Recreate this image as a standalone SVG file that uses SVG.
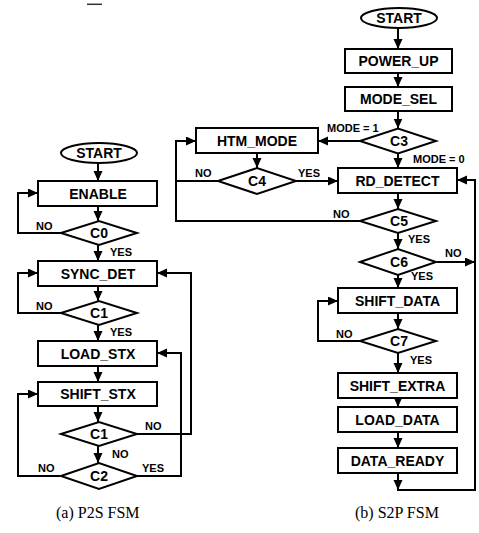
<svg xmlns="http://www.w3.org/2000/svg" width="479" height="533" viewBox="0 0 479 533">
  <style>
    .box { fill: #fff; stroke: #000; stroke-width: 2; }
    .lbl { font-family: "Liberation Sans", Arial, sans-serif; font-weight: bold; font-size: 14px; text-anchor: middle; fill: #000; }
    .sm { font-family: "Liberation Sans", Arial, sans-serif; font-weight: bold; font-size: 11px; fill: #000; }
    .cap { font-family: "Liberation Serif", "Times New Roman", serif; font-size: 16px; fill: #000; }
    .wire { fill: none; stroke: #000; stroke-width: 2; }
  </style>
  <defs>
    <marker id="arrow" markerUnits="userSpaceOnUse" markerWidth="11" markerHeight="10" refX="10" refY="4.5" orient="auto">
      <path d="M0,0 L10,4.5 L0,9 z" fill="#000"/>
    </marker>
  </defs>
  <rect width="479" height="533" fill="#fff"/>
  <line x1="87" y1="4.3" x2="102" y2="4.3" stroke="#333" stroke-width="1.5"/>

  <!-- connectors -->
  <g id="connectors" class="wire">
    <!-- P2S -->
    <path d="M98,163 V181" marker-end="url(#arrow)"/>
    <path d="M98,206 V221" marker-end="url(#arrow)"/>
    <path d="M61,233 H18 V193 H38" marker-end="url(#arrow)"/>
    <path d="M98,245 V261" marker-end="url(#arrow)"/>
    <path d="M98,286 V301" marker-end="url(#arrow)"/>
    <path d="M61,313 H18 V273 H38" marker-end="url(#arrow)"/>
    <path d="M98,325 V341" marker-end="url(#arrow)"/>
    <path d="M98,366 V382" marker-end="url(#arrow)"/>
    <path d="M98,406 V422" marker-end="url(#arrow)"/>
    <path d="M137,434 H191 V273 H157" marker-end="url(#arrow)"/>
    <path d="M98,446 V463" marker-end="url(#arrow)"/>
    <path d="M60,476 H18 V394 H38" marker-end="url(#arrow)"/>
    <path d="M136,476 H181 V353 H157" marker-end="url(#arrow)"/>
    <!-- S2P -->
    <path d="M398,28 V49" marker-end="url(#arrow)"/>
    <path d="M398,73 V87" marker-end="url(#arrow)"/>
    <path d="M398,111 V128.5" marker-end="url(#arrow)"/>
    <path d="M360,141 H318" marker-end="url(#arrow)"/>
    <path d="M398,153.5 V168" marker-end="url(#arrow)"/>
    <path d="M257,153 V168" marker-end="url(#arrow)"/>
    <path d="M218,181 H176"/>
    <path d="M296,181 H338" marker-end="url(#arrow)"/>
    <path d="M398,193 V209" marker-end="url(#arrow)"/>
    <path d="M360,221 H176 V141 H196" marker-end="url(#arrow)"/>
    <path d="M398,233 V249" marker-end="url(#arrow)"/>
    <path d="M437,262 H475" marker-end="url(#arrow)"/>
    <path d="M398,275 V288" marker-end="url(#arrow)"/>
    <path d="M398,313 V329" marker-end="url(#arrow)"/>
    <path d="M360,341 H318 V301 H338" marker-end="url(#arrow)"/>
    <path d="M398,353 V373" marker-end="url(#arrow)"/>
    <path d="M398,398 V407" marker-end="url(#arrow)"/>
    <path d="M398,432 V448" marker-end="url(#arrow)"/>
    <path d="M398,473 V490" marker-end="url(#arrow)"/>
    <path d="M397,490 H475 V180 H457" marker-end="url(#arrow)"/>
  </g>

  <!-- P2S FSM nodes -->
  <g id="p2s-start"><ellipse class="box" cx="99" cy="153" rx="38" ry="10"/><text class="lbl" x="99" y="158">START</text></g>
  <g id="p2s-enable"><rect class="box" x="38" y="181" width="119" height="25"/><text class="lbl" x="98" y="198.5">ENABLE</text></g>
  <g id="p2s-c0"><polygon class="box" points="61,233 99,221 137,233 99,245"/><text class="lbl" x="99" y="238">C0</text></g>
  <g id="p2s-sync"><rect class="box" x="38" y="261" width="119" height="25"/><text class="lbl" x="98" y="278.5">SYNC_DET</text></g>
  <g id="p2s-c1a"><polygon class="box" points="61,313 99,301 137,313 99,325"/><text class="lbl" x="99" y="318">C1</text></g>
  <g id="p2s-load"><rect class="box" x="38" y="341" width="119" height="25"/><text class="lbl" x="98" y="358.5">LOAD_STX</text></g>
  <g id="p2s-shift"><rect class="box" x="38" y="382" width="119" height="24"/><text class="lbl" x="98" y="399">SHIFT_STX</text></g>
  <g id="p2s-c1b"><polygon class="box" points="61,434 99,422 137,434 99,446"/><text class="lbl" x="99" y="439">C1</text></g>
  <g id="p2s-c2"><polygon class="box" points="61,476 99,463 137,476 99,489"/><text class="lbl" x="99" y="481">C2</text></g>

  <!-- P2S branch labels -->
  <g id="p2s-labels">
    <text class="sm" x="36" y="230">NO</text>
    <text class="sm" x="110" y="256">YES</text>
    <text class="sm" x="36" y="310">NO</text>
    <text class="sm" x="110" y="336">YES</text>
    <text class="sm" x="145" y="430">NO</text>
    <text class="sm" x="112" y="458">NO</text>
    <text class="sm" x="38" y="472">NO</text>
    <text class="sm" x="142" y="472">YES</text>
  </g>

  <!-- S2P FSM nodes -->
  <g id="s2p-start"><ellipse class="box" cx="399" cy="18" rx="38" ry="10"/><text class="lbl" x="399" y="23">START</text></g>
  <g id="s2p-powerup"><rect class="box" x="345" y="49" width="107" height="24"/><text class="lbl" x="398.5" y="66">POWER_UP</text></g>
  <g id="s2p-modesel"><rect class="box" x="345" y="87" width="107" height="24"/><text class="lbl" x="398.5" y="104">MODE_SEL</text></g>
  <g id="s2p-c3"><polygon class="box" points="360,141 398,128.5 436,141 398,153.5"/><text class="lbl" x="399" y="146">C3</text></g>
  <g id="s2p-htm"><rect class="box" x="196" y="128" width="122" height="25"/><text class="lbl" x="257" y="145.5">HTM_MODE</text></g>
  <g id="s2p-c4"><polygon class="box" points="218,181 257,168 296,181 257,194"/><text class="lbl" x="257" y="186">C4</text></g>
  <g id="s2p-rd"><rect class="box" x="338" y="168" width="119" height="25"/><text class="lbl" x="397.5" y="185.5">RD_DETECT</text></g>
  <g id="s2p-c5"><polygon class="box" points="360,221 398,209 436,221 398,233"/><text class="lbl" x="399" y="226">C5</text></g>
  <g id="s2p-c6"><polygon class="box" points="360,262 398,249 436,262 398,275"/><text class="lbl" x="399" y="267">C6</text></g>
  <g id="s2p-shiftdata"><rect class="box" x="338" y="288" width="119" height="25"/><text class="lbl" x="397.5" y="305.5">SHIFT_DATA</text></g>
  <g id="s2p-c7"><polygon class="box" points="360,341 398,329 436,341 398,353"/><text class="lbl" x="399" y="346">C7</text></g>
  <g id="s2p-shiftextra"><rect class="box" x="338" y="373" width="119" height="25"/><text class="lbl" x="397.5" y="390.5">SHIFT_EXTRA</text></g>
  <g id="s2p-loaddata"><rect class="box" x="338" y="407" width="119" height="25"/><text class="lbl" x="397.5" y="424.5">LOAD_DATA</text></g>
  <g id="s2p-dataready"><rect class="box" x="338" y="448" width="119" height="25"/><text class="lbl" x="397.5" y="465.5">DATA_READY</text></g>

  <!-- S2P branch labels -->
  <g id="s2p-labels">
    <text class="sm" x="327" y="132">MODE = 1</text>
    <text class="sm" x="413" y="163">MODE = 0</text>
    <text class="sm" x="195" y="177">NO</text>
    <text class="sm" x="298" y="177">YES</text>
    <text class="sm" x="333" y="218">NO</text>
    <text class="sm" x="408" y="243">YES</text>
    <text class="sm" x="445" y="257">NO</text>
    <text class="sm" x="411" y="280">YES</text>
    <text class="sm" x="336" y="338">NO</text>
    <text class="sm" x="410" y="364">YES</text>
  </g>

  <!-- captions -->
  <text class="cap" x="56" y="518">(a) P2S FSM</text>
  <text class="cap" x="355" y="518">(b) S2P FSM</text>
</svg>
